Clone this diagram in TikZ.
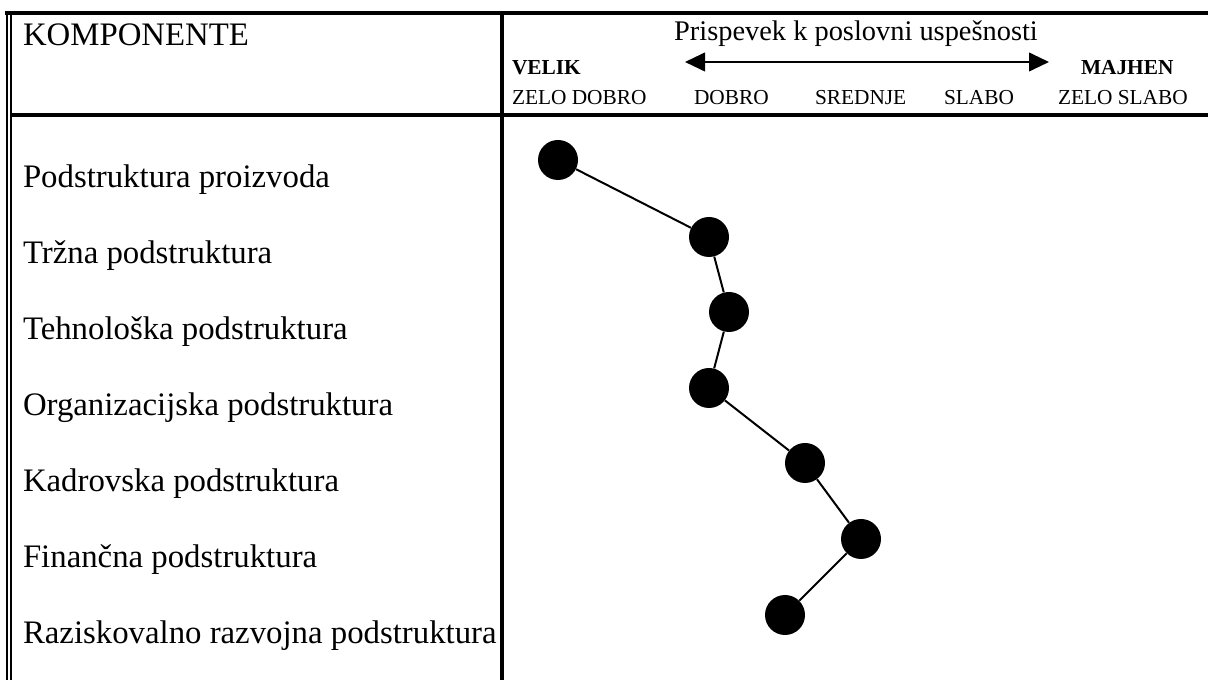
\documentclass[tikz,border=0pt]{standalone}
\usepackage{fontspec}
\setmainfont{Liberation Serif}
\usetikzlibrary{arrows.meta}
\begin{document}
\begin{tikzpicture}[x=0.75pt,y=-0.75pt,
  txt/.style={anchor=base west,inner sep=0pt,outer sep=0pt},
  bigtxt/.style={txt,font=\fontsize{24.6}{28}\selectfont},
  smalltxt/.style={txt,font=\fontsize{16}{19}\selectfont},
  boldtxt/.style={txt,font=\fontsize{16}{19}\selectfont\bfseries},
  titletxt/.style={anchor=base,inner sep=0pt,font=\fontsize{21.3}{25}\selectfont},
  dot/.style={circle,fill=black,draw=none,minimum size=30pt,inner sep=0pt},
  link/.style={line width=1.5pt},
  rule/.style={line width=3pt},
  thin/.style={line width=1.5pt}]
\useasboundingbox (0,0) rectangle (1208,680);
% frame
\draw[rule] (5,13) -- (1208,13);
\draw[thin] (6.5,12) -- (6.5,680);
\draw[thin] (11,15) -- (11,680);
\draw[rule] (11,115) -- (1208,115);
\draw[rule] (502,13) -- (502,680);
% header
\node[bigtxt] (komp) at (23,46) {KOMPONENTE};
\node[titletxt] (title) at (856,41) {Prispevek k poslovni uspešnosti};
\coordinate (arrL) at (685,62);
\coordinate (arrR) at (1049,62);
\draw[line width=1.5pt,{Triangle[length=15pt,width=14pt]}-{Triangle[length=15pt,width=14pt]}] (arrL) -- (arrR);
\node[boldtxt] (velik) at (512,75) {VELIK};
\node[boldtxt] (majhen) at (1081,75) {MAJHEN};
\node[smalltxt] (h1) at (512,105) {ZELO DOBRO};
\node[smalltxt] (h2) at (694,105) {DOBRO};
\node[smalltxt] (h3) at (815,105) {SREDNJE};
\node[smalltxt] (h4) at (944,105) {SLABO};
\node[smalltxt] (h5) at (1058,105) {ZELO SLABO};
% rows
\node[bigtxt] (r1) at (23,188) {Podstruktura proizvoda};
\node[bigtxt] (r2) at (23,264) {Tržna podstruktura};
\node[bigtxt] (r3) at (23,340) {Tehnološka podstruktura};
\node[bigtxt] (r4) at (23,416) {Organizacijska podstruktura};
\node[bigtxt] (r5) at (23,492) {Kadrovska podstruktura};
\node[bigtxt] (r6) at (23,568) {Finančna podstruktura};
\node[bigtxt] (r7) at (23,644) {Raziskovalno razvojna podstruktura};
% profile
\node[dot] (p1) at (558,160) {};
\node[dot] (p2) at (709,237) {};
\node[dot] (p3) at (729,312) {};
\node[dot] (p4) at (709,388) {};
\node[dot] (p5) at (805,463) {};
\node[dot] (p6) at (861,539) {};
\node[dot] (p7) at (785,615) {};
\draw[link] (p1) -- (p2) -- (p3) -- (p4) -- (p5) -- (p6) -- (p7);
\end{tikzpicture}
\end{document}
